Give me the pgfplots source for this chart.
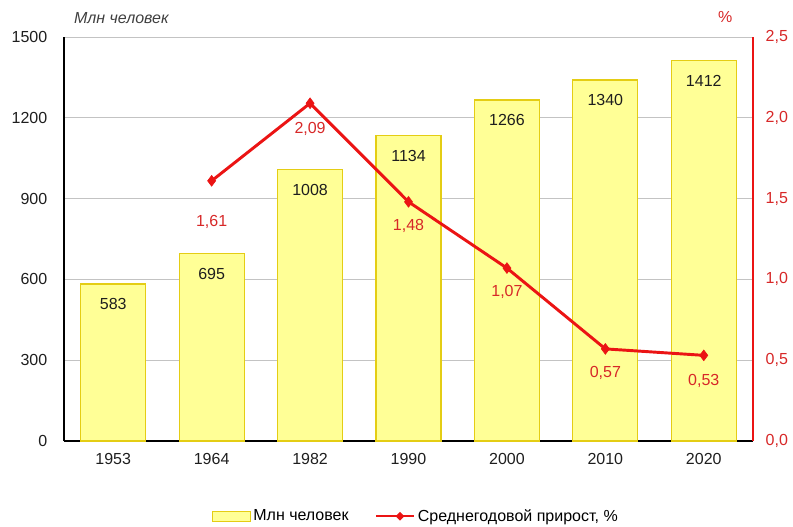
\documentclass[border=0pt]{standalone}
\usepackage{pgfplots}
\pgfplotsset{compat=1.18}
\usepackage{pgfplotstable}
\usepackage{fontspec}
\setmainfont{Liberation Sans}
\usetikzlibrary{shapes.geometric}
\definecolor{barfill}{RGB}{255,255,150}
\definecolor{baredge}{RGB}{228,205,20}
\definecolor{linered}{RGB}{235,20,20}
\definecolor{labred}{RGB}{215,40,40}
\definecolor{gridgray}{RGB}{195,195,195}
\definecolor{txt}{RGB}{30,30,30}

\pgfplotstableread{
x val
0 583
1 695
2 1008
3 1134
4 1266
5 1340
6 1412
}\pop
\pgfplotstableread{
x val shift
1 1.61 -31
2 2.09 -19
3 1.48 -18
4 1.07 -18
5 0.57 -18
6 0.53 -19
}\growth

\begin{document}
\begin{tikzpicture}[font=\fontsize{12}{14}\selectfont]
\path[use as bounding box] (-48pt,-63.75pt) rectangle (546.75pt,330.75pt);
\begin{axis}[
  at={(0,0)}, anchor=south west,
  scale only axis, width=516.75pt, height=303pt,
  xmin=-0.5, xmax=6.5, ymin=0, ymax=1500,
  xtick={0,...,6}, xticklabels={1953,1964,1982,1990,2000,2010,2020},
  ytick={0,300,...,1500},
  axis x line*=bottom, axis y line*=left,
  axis line style={black, line width=0.8pt, -},
  major tick length=0pt,
  ymajorgrids, grid style={gridgray, line width=0.6pt},
  tick label style={txt, font=\fontsize{12}{14}\selectfont, /pgf/number format/assume math mode=true},
  yticklabel style={xshift=-9pt, /pgf/number format/1000 sep={}},
  xticklabel style={yshift=-6pt},
  legend style={at={(0.511,-0.186)}, anchor=center, draw=none, fill=none,
    legend columns=2, font=\fontsize{12}{14}\selectfont,
    /tikz/every even column/.append style={column sep=18pt}},
  legend cell align=left,
]
\addplot[ybar, bar width=0.66, fill=barfill, draw=baredge, line width=0.9pt,
  nodes near coords={\pgfmathprintnumber[1000 sep={}, assume math mode=true]{\pgfplotspointmeta}},
  every node near coord/.append style={anchor=center, yshift=-15pt, txt, font=\fontsize{12}{14}\selectfont},
  legend image code/.code={\draw[fill=barfill, draw=baredge, line width=0.8pt] (0cm,-0.13cm) rectangle (1cm,0.13cm);}]
  table[x=x, y=val] {\pop};
\addlegendentry{Млн человек}
\addlegendimage{legend image code/.code={
  \draw[linered, line width=1.5pt] (0cm,0cm) -- (1cm,0cm);
  \node[diamond, fill=linered, inner sep=1.3pt] at (0.5cm,0cm) {};}}
\addlegendentry{Среднегодовой прирост, \%}
\end{axis}
\begin{axis}[
  at={(0,0)}, anchor=south west,
  scale only axis, width=516.75pt, height=303pt,
  xmin=-0.5, xmax=6.5, ymin=0, ymax=2.5,
  axis x line=none, axis y line*=right,
  axis line style={linered, line width=0.8pt, -},
  ytick={0,0.5,...,2.5},
  major tick length=0pt,
  yticklabel style={labred, xshift=6pt, font=\fontsize{12}{14}\selectfont,
    /pgf/number format/.cd, fixed, fixed zerofill, precision=1, use comma, assume math mode=true},
]
\addplot[linered, line width=2.2pt, mark=diamond*, mark size=4pt,
  mark options={fill=linered, draw=linered, line width=0.5pt},
  visualization depends on={\thisrow{shift} \as \lshift},
  nodes near coords={\pgfmathprintnumber[fixed, fixed zerofill, precision=2, use comma, assume math mode=true]{\pgfplotspointmeta}},
  every node near coord/.append style={anchor=center, yshift=\lshift pt, labred, font=\fontsize{12}{14}\selectfont}]
  table[x=x, y=val] {\growth};
\end{axis}
\node[anchor=west, font=\itshape\fontsize{12}{14}\selectfont, text=black!75] at (4pt,317pt) {Млн человек};
\node[font=\fontsize{12}{14}\selectfont, text=labred] at (496pt,318pt) {\%};
\end{tikzpicture}
\end{document}
